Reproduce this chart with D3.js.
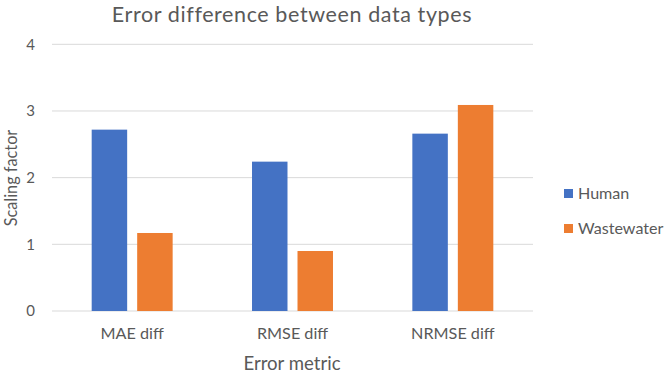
<!DOCTYPE html>
<html>
<head>
<meta charset="utf-8">
<script src="https://cdn.jsdelivr.net/npm/d3@7"></script>
<style>
  html, body { margin: 0; padding: 0; background: #fff; }
  svg { display: block; font-family: Lato, "Open Sans", sans-serif; }
</style>
</head>
<body>
<svg id="chart" width="668" height="372"></svg>
<script>
const categories = ["MAE diff", "RMSE diff", "NRMSE diff"];
const seriesNames = ["Human", "Wastewater"];
const humanValues = [2.72, 2.24, 2.66];
const wastewaterValues = [1.17, 0.90, 3.09];
const yTicks = [0, 1, 2, 3, 4];
const colors = ["#4472C4", "#ED7D31"];
const titleText = "Error difference between data types";
const xAxisTitle = "Error metric";
const yAxisTitle = "Scaling factor";

const seriesValues = [humanValues, wastewaterValues];
const svg = d3.select("#chart");
const textColor = "#595959";

const plot = { left: 52, right: 533, top: 44.3, bottom: 311 };

const x0 = d3.scaleBand().domain(categories).range([plot.left, plot.right])
  .paddingInner(0.495).paddingOuter(0.2475);
const x1 = d3.scaleBand().domain(seriesNames).range([0, x0.bandwidth()]).paddingInner(0.22);
const y = d3.scaleLinear().domain([0, 4]).range([plot.bottom, plot.top]);

// gridlines
svg.append("g").selectAll("line").data(yTicks).join("line")
  .attr("x1", plot.left).attr("x2", plot.right)
  .attr("y1", d => y(d)).attr("y2", d => y(d))
  .attr("stroke", "#D9D9D9").attr("stroke-width", 1);

// y axis labels
const yAxis = d3.axisLeft(y).tickValues(yTicks).tickFormat(d3.format("d")).tickSize(0).tickPadding(0);
const yg = svg.append("g").attr("transform", `translate(${plot.left - 17},0)`).call(yAxis);
yg.select(".domain").remove();
yg.selectAll("text").attr("fill", textColor).style("font-size", "15px").style("font-family", "Lato, sans-serif");

// bars
const groups = svg.append("g").selectAll("g").data(categories).join("g")
  .attr("transform", d => `translate(${x0(d)},0)`);
groups.selectAll("rect").data((c, i) => seriesNames.map((s, j) => ({ s, v: seriesValues[j][i], j })))
  .join("rect")
  .attr("x", d => x1(d.s))
  .attr("width", x1.bandwidth())
  .attr("y", d => y(d.v))
  .attr("height", d => y(0) - y(d.v))
  .attr("fill", d => colors[d.j]);

// x axis labels
const xAxis = d3.axisBottom(x0).tickSize(0).tickPadding(0);
const xg = svg.append("g").attr("transform", `translate(0,${plot.bottom + 16.5})`).call(xAxis);
xg.select(".domain").remove();
xg.selectAll("text").attr("fill", textColor).style("font-size", "16.2px").style("font-family", "Lato, sans-serif");

// title
svg.append("text").attr("x", 292).attr("y", 21.6).attr("text-anchor", "middle")
  .attr("fill", textColor).style("font-size", "21.5px").style("letter-spacing", "0.6px").text(titleText);

// axis titles
svg.append("text").attr("x", 292).attr("y", 369.5).attr("text-anchor", "middle")
  .attr("fill", textColor).style("font-size", "18.6px").text(xAxisTitle);
svg.append("text").attr("transform", `translate(17,178) rotate(-90)`)
  .attr("text-anchor", "middle").attr("fill", textColor).style("font-size", "16.3px").text(yAxisTitle);

// legend
const legend = svg.append("g").selectAll("g").data(seriesNames).join("g")
  .attr("transform", (d, i) => `translate(564,${189 + i * 35})`);
legend.append("rect").attr("width", 9).attr("height", 9).attr("fill", (d, i) => colors[i]);
legend.append("text").attr("x", 14).attr("y", 9.5).attr("fill", textColor)
  .style("font-size", "16.1px").text(d => d);
</script>
</body>
</html>
